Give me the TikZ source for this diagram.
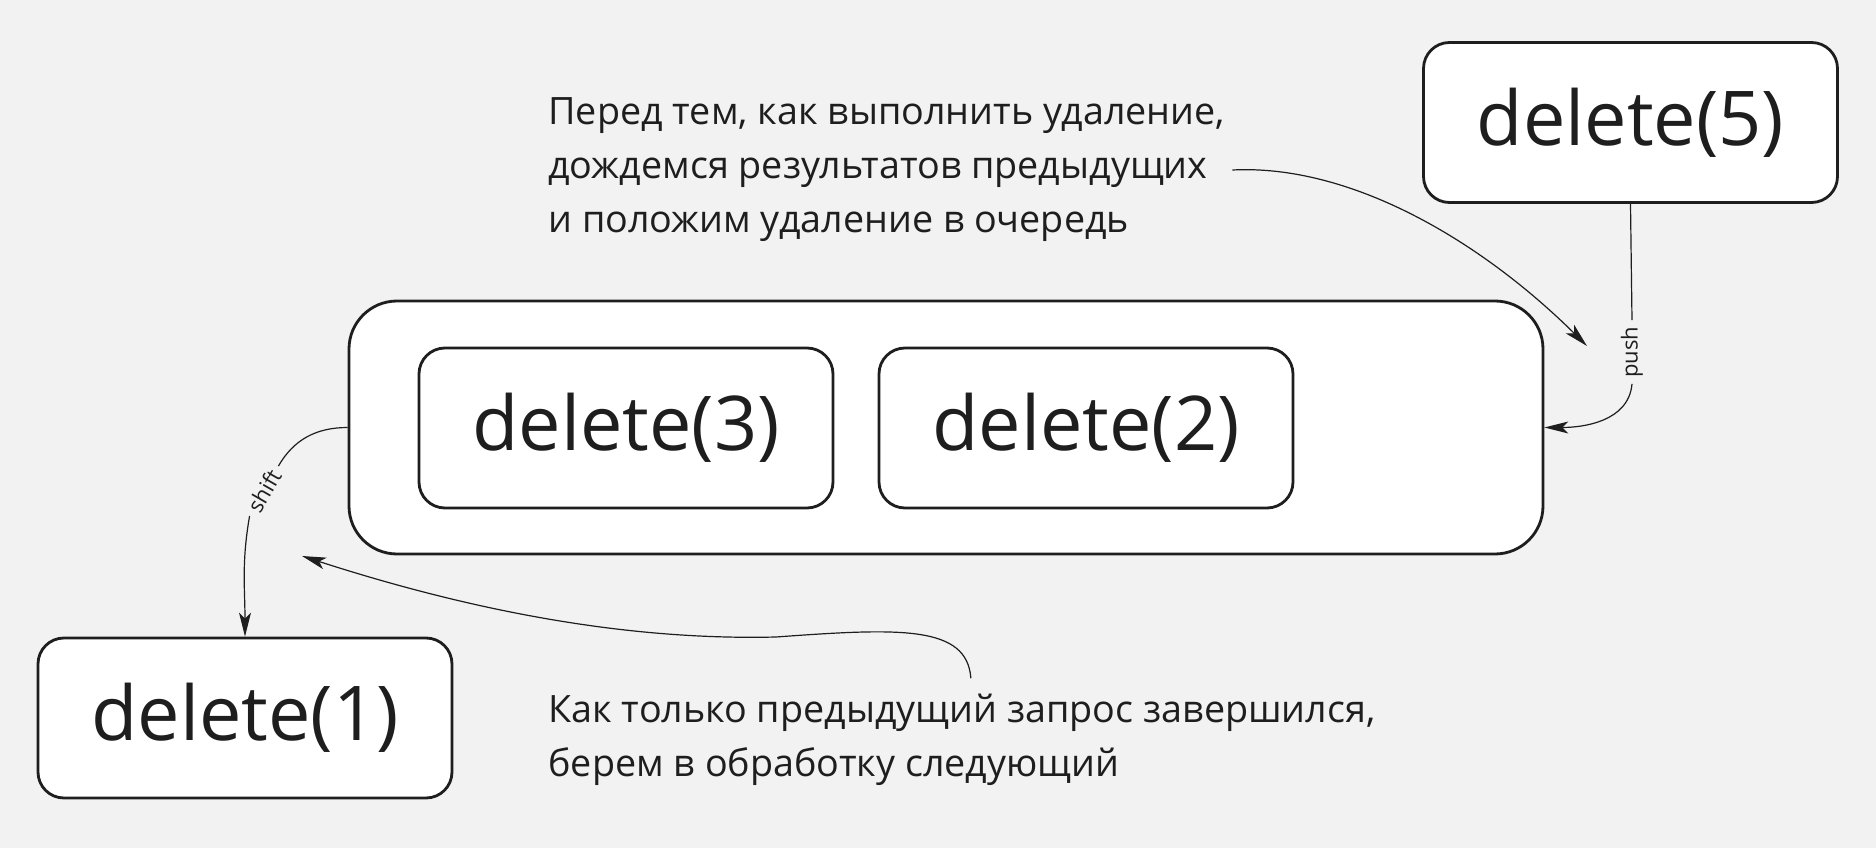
\documentclass[tikz,border=0pt]{standalone}
\usepackage{fontspec}
\setmainfont{Open Sans}
\usetikzlibrary{calc}
\usetikzlibrary{arrows.meta}

\definecolor{paper}{HTML}{F2F2F2}
\definecolor{ink}{HTML}{1E1E1E}

\tikzset{
 opbox/.style={draw=ink, line width=1.4pt, fill=white, rounded corners=13pt,
   minimum width=207pt, minimum height=80pt, inner sep=0pt, text=ink,
   font=\fontsize{37.8}{44}\selectfont},
 queuebox/.style={draw=ink, line width=1.4pt, fill=white, rounded corners=24pt,
   minimum width=597pt, minimum height=126.5pt},
 note/.style={anchor=west, align=left, text=ink, inner sep=3.5pt,
   font=\fontsize{18.85}{27}\selectfont},
 tag/.style={text=ink, inner xsep=3pt, inner ysep=1pt, font=\fontsize{11}{13}\selectfont},
 wire/.style={draw=ink, line width=0.6pt},
 conn/.style={wire, -{Stealth[length=12pt,width=6pt,inset=3pt]}},
}

\begin{document}
\begin{tikzpicture}[x=.5pt, y=.5pt]
\fill[paper] (0,0) rectangle (1876,848);

% the queue and what waits in it
\node[queuebox] (queue) at (946,420.5) {};
\node[opbox] (del3) at (626,420) {delete(3)};
\node[opbox] (del2) at (1086,420) {delete(2)};

% new request and the one being run
\node[opbox] (del5) at (1630.5,725.5) {delete(5)};
\node[opbox] (del1) at (245,130) {delete(1)};

% notes
\node[note] (topnote) at (541,678) {Перед тем, как выполнить удаление,\\дождемся результатов предыдущих\\и положим удаление в очередь};
\node[note] (botnote) at (541,108.5) {Как только предыдущий запрос завершился,\\берем в обработку следующий};

% push
\node[tag, rotate=90] (pushtag) at (1632,496) {push};
\draw[wire] (del5.south) -- (pushtag.east);
\draw[conn] (pushtag.west) to[out=-95, in=0] (queue.east);

% shift
\node[tag, rotate=60] (shifttag) at (264,357) {shift};
\draw[wire] (queue.west) to[out=180, in=60] (shifttag.east);
\draw[conn] (shifttag.west) to[out=-100, in=90] (del1.north);

% note pointers
\coordinate (queuein) at (1587,502);
\draw[conn] (topnote.east) .. controls (1350,684) and (1480,608) .. (queuein);
\coordinate (botstart) at ([xshift=4.5pt, yshift=4pt]botnote.north);
\coordinate (queueout) at (302,292);
\draw[conn] (botstart) .. controls (967,223) and (900,220) .. (776,211)
  .. controls (650,208) and (500,228) .. (queueout);
\end{tikzpicture}
\end{document}
